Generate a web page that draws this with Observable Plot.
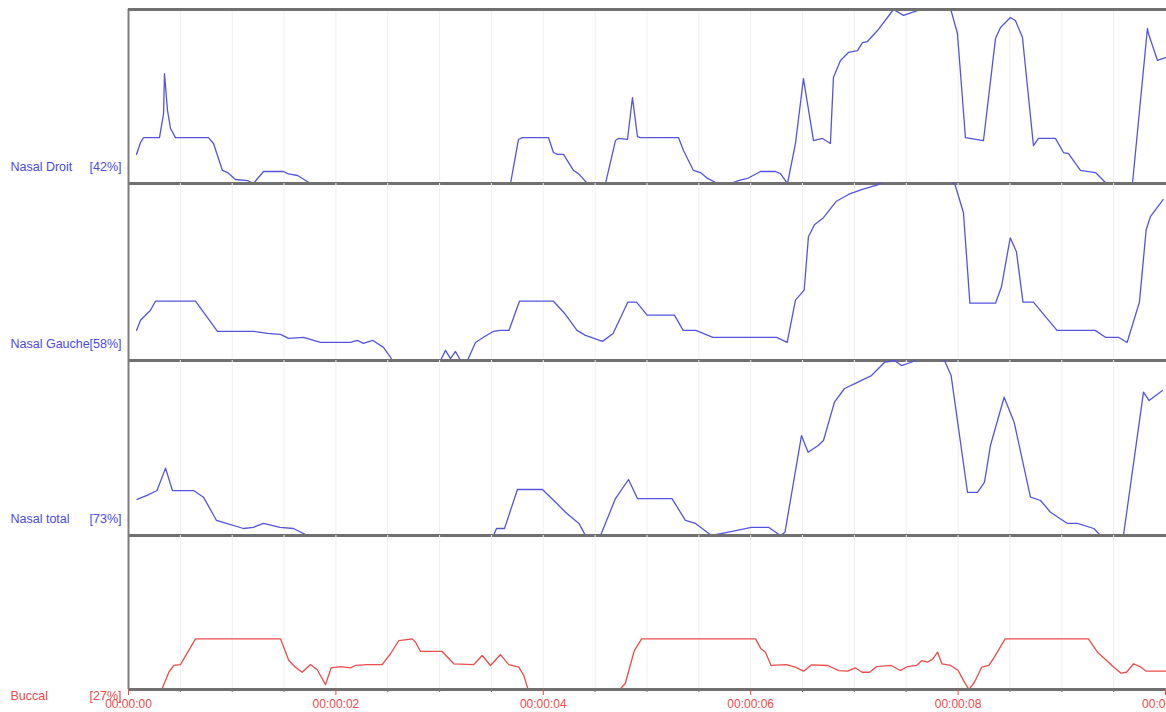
<!DOCTYPE html>
<html><head><meta charset="utf-8">
<script src="https://cdn.jsdelivr.net/npm/d3@7"></script>
<script src="https://cdn.jsdelivr.net/npm/@observablehq/plot@0.6"></script>
<style>
body{margin:0;background:#fff;}
#chart{position:relative;width:1166px;height:712px;overflow:hidden;background:#fff;font-family:"Liberation Sans",Arial,sans-serif;}
#chart svg{position:absolute;left:0;overflow:visible;background:transparent;}
</style></head><body><div id="chart"></div>
<script>
// Channel names and percentages
const channelNames = ["Nasal Droit", "Nasal Gauche", "Nasal total", "Buccal"];
const channelPercents = ["[42%]", "[58%]", "[73%]", "[27%]"];

// Time (seconds) / value (% of panel height) samples
const nasalDroitTime = [0.077,0.116,0.145,0.299,0.338,0.347,0.376,0.405,0.453,0.771,0.820,0.906,0.955,1.032,1.148,1.205,1.302,1.495,1.533,1.630,1.755,1.80,3.64,3.684,3.761,3.799,4.050,4.098,4.137,4.195,4.291,4.339,4.426,4.51,4.600,4.696,4.725,4.812,4.860,4.908,4.937,5.304,5.352,5.448,5.516,5.584,5.680,5.74,5.805,5.882,5.969,6.094,6.239,6.287,6.355,6.432,6.509,6.606,6.692,6.769,6.798,6.866,6.943,7.030,7.078,7.126,7.223,7.319,7.377,7.473,7.608,7.70,7.85,7.927,7.994,8.071,8.245,8.361,8.409,8.505,8.553,8.621,8.727,8.775,8.939,9.016,9.065,9.180,9.325,9.421,9.55,9.682,9.826,9.836,9.923,10.0];
const nasalDroitValue = [16.7,23.6,26.4,26.4,40.2,63.2,42.0,31.6,26.4,26.4,23.0,7.5,6.3,2.3,1.7,0,6.9,6.9,5.7,4.6,0,-10,-10,0,25.3,26.4,26.4,17.8,16.7,16.7,7.5,5.7,0,-6,0,24.7,25.9,25.3,49.4,27.0,26.4,26.4,19.0,7.5,6.3,2.9,0,-2,0,1.7,2.9,6.9,6.9,5.7,0,23.0,60.3,24.7,25.9,23.0,60.9,70.7,75.3,76.4,81.0,81.6,87.9,95.4,100,96.6,99.4,106,106,100.6,86.2,26.4,24.7,83.3,89.7,95.4,93.7,83.9,21.8,25.9,25.9,17.8,17.2,7.5,6.3,0.6,-8,0,89.1,86.2,70.7,72.4];

const nasalGaucheTime = [0.077,0.116,0.212,0.260,0.646,0.858,1.205,1.340,1.466,1.543,1.688,1.851,2.141,2.208,2.266,2.353,2.459,2.527,2.546,2.60,2.95,3.009,3.057,3.105,3.153,3.202,3.235,3.269,3.346,3.423,3.520,3.587,3.669,3.770,4.098,4.204,4.325,4.407,4.571,4.673,4.816,4.899,5.001,5.265,5.349,5.471,5.636,6.249,6.352,6.432,6.516,6.557,6.615,6.702,6.823,6.943,7.068,7.232,7.40,7.80,7.970,8.052,8.114,8.361,8.418,8.503,8.563,8.626,8.727,8.831,8.954,9.322,9.421,9.547,9.630,9.749,9.814,9.855,9.977];
const nasalGaucheValue = [17.0,22.7,28.4,33.5,33.5,16.5,16.5,15.3,14.8,12.5,13.1,10.2,10.2,11.4,9.7,11.4,7.4,1.7,0,-10,-10,0,5.7,1.1,5.1,0,-3,0,10.2,13.1,16.5,17.0,17.0,33.5,33.5,26.7,17.0,14.2,10.8,15.3,33.0,33.0,25.6,25.6,17.0,17.0,13.1,13.1,10.2,34.1,39.8,69.9,76.7,80.7,89.8,93.8,96.6,99.4,106,106,99.4,83.5,32.4,32.4,41.5,69.3,61.4,33.0,33.0,25.6,17.0,17.0,13.1,13.1,10.2,33.0,73.9,81.3,90.9];

const nasalTotalTime = [0.083,0.179,0.275,0.357,0.424,0.627,0.723,0.849,0.945,1.109,1.205,1.302,1.461,1.591,1.726,1.80,3.45,3.520,3.549,3.626,3.751,3.992,4.118,4.214,4.344,4.407,4.48,4.552,4.696,4.822,4.908,5.241,5.371,5.468,5.622,5.786,6.008,6.172,6.287,6.331,6.490,6.554,6.651,6.702,6.808,6.905,7.035,7.165,7.290,7.387,7.454,7.551,7.70,7.869,7.933,8.091,8.187,8.255,8.312,8.444,8.541,8.698,8.795,8.891,9.055,9.151,9.309,9.373,9.48,9.595,9.788,9.842,9.971];
const nasalTotalValue = [20.6,22.9,25.7,38.5,25.7,25.7,21.9,8.6,6.9,4.0,4.7,6.9,4.6,4.0,0,-10,-10,0,4.0,4.0,26.3,26.3,19.0,13.3,6.9,0,-8,0,21.1,32.0,21.1,21.1,8.6,6.9,0,1.9,4.7,4.7,0,1.9,57.1,47.6,51.4,54.3,76.2,84.0,87.6,91.4,98.9,100,97.1,99.0,104,100,91.4,24.7,24.7,30.5,51.4,79.0,64.7,21.9,20.0,13.3,6.9,6.9,4.0,0,-10,0,81.9,77.1,82.9];

const buccalTime = [0.0,0.325,0.389,0.437,0.501,0.646,1.466,1.546,1.610,1.675,1.755,1.820,1.900,1.955,2.044,2.141,2.189,2.302,2.446,2.527,2.607,2.736,2.768,2.816,3.025,3.137,3.330,3.411,3.491,3.587,3.667,3.764,3.812,3.851,3.95,4.65,4.756,4.791,4.878,4.948,6.047,6.099,6.142,6.197,6.343,6.431,6.511,6.588,6.744,6.850,6.936,7.007,7.076,7.147,7.216,7.356,7.443,7.512,7.600,7.652,7.705,7.757,7.802,7.844,7.930,8.001,8.053,8.105,8.158,8.228,8.297,8.350,8.454,9.257,9.344,9.414,9.484,9.571,9.624,9.693,9.763,9.815,10.01];
const buccalValue = [-10,0.6,11.2,15.6,16.2,32.9,32.9,18.8,14.5,11.2,16.2,12.8,3.2,14.1,14.9,14.1,15.6,16.2,16.2,23.2,31.8,32.9,30.7,24.7,24.7,16.7,16.2,22.1,15.6,22.7,16.2,14.5,9.1,0.6,-10,-10,1.5,3.9,25.3,32.9,32.9,26.4,24.2,15.6,16.2,14.5,11.9,16.0,15.6,12.3,11.9,14.1,11.2,11.2,14.9,15.6,12.3,14.9,15.6,18.8,17.7,19.9,24.2,16.7,15.6,12.3,5.8,0,4.7,14.5,15.6,21.0,32.9,32.9,24.2,19.9,15.6,10.6,11.2,16.7,14.5,11.9,11.9];

// Axis ticks
const gridTimes = [0.5,1,1.5,2,2.5,3,3.5,4,4.5,5,5.5,6,6.5,7,7.5,8,8.5,9,9.5];
const minorTicks = [0.5,1,1.5,2.5,3,3.5,4.5,5,5.5,6.5,7,7.5,8.5,9,9.5];
const labelTicks = [0,2,4,6,8,10];

const seriesTimes = [nasalDroitTime, nasalGaucheTime, nasalTotalTime, buccalTime];
const seriesValues = [nasalDroitValue, nasalGaucheValue, nasalTotalValue, buccalValue];

const BLUE = "#5454e0", RED = "#ee4b4b", BLUE_TXT = "#4a4ae8", RED_TXT = "#f04848", BORDER = "#707070";
const panelTop = [9, 183, 360, 535];
const panelBottom = [183, 360, 535, 689];
const fmt = d => "00:00:" + String(d).padStart(2, "0");

const chart = document.getElementById("chart");
for (let i = 0; i < 4; i++) {
  const last = i === 3;
  const mt = 6, mb = last ? 24 : 6;
  const h = panelBottom[i] - panelTop[i] + mt + mb;
  const data = seriesTimes[i].map((t, j) => ({t, v: seriesValues[i][j]}));
  const lineColor = last ? RED : BLUE;
  const txtColor = last ? RED_TXT : BLUE_TXT;
  const labelDy = last ? 10 : -13;
  const marks = [
    Plot.ruleX(gridTimes, {stroke: "#f0f0f0", strokeWidth: 1}),
    Plot.line(data, {x: "t", y: "v", stroke: lineColor, strokeWidth: 1.3, clip: true}),
    Plot.ruleY([0], {stroke: BORDER, strokeWidth: 3}),
    Plot.ruleX([0], {stroke: "#7c7c7c", strokeWidth: 2}),
    Plot.text([channelNames[i]], {frameAnchor: "bottom-left", dx: -118, dy: labelDy, textAnchor: "start", fill: txtColor, fontSize: 12.5}),
    Plot.text([channelPercents[i]], {frameAnchor: "bottom-left", dx: -7, dy: labelDy, textAnchor: "end", fill: txtColor, fontSize: 12.5})
  ];
  if (i === 0) marks.push(Plot.ruleY([100], {stroke: BORDER, strokeWidth: 3}));
  if (last) {
    marks.push(Plot.axisX(minorTicks, {anchor: "bottom", tickSize: 3, tickFormat: () => "", stroke: "#777", label: null}));
    marks.push(Plot.axisX(labelTicks, {anchor: "bottom", tickSize: 6, tickPadding: 4, tickFormat: fmt, stroke: RED_TXT, fill: RED_TXT, fontSize: 12, label: null}));
  }
  const svg = Plot.plot({
    width: 1166, height: h,
    marginLeft: 128, marginRight: 0, marginTop: mt, marginBottom: mb,
    x: {domain: [0, 10.01], axis: null},
    y: {domain: [0, 100], axis: null},
    style: {background: "transparent", overflow: "visible", fontFamily: "'Liberation Sans', Arial, sans-serif"},
    marks
  });
  svg.style.top = (panelTop[i] - mt) + "px";
  chart.appendChild(svg);
}
</script>
</body></html>
